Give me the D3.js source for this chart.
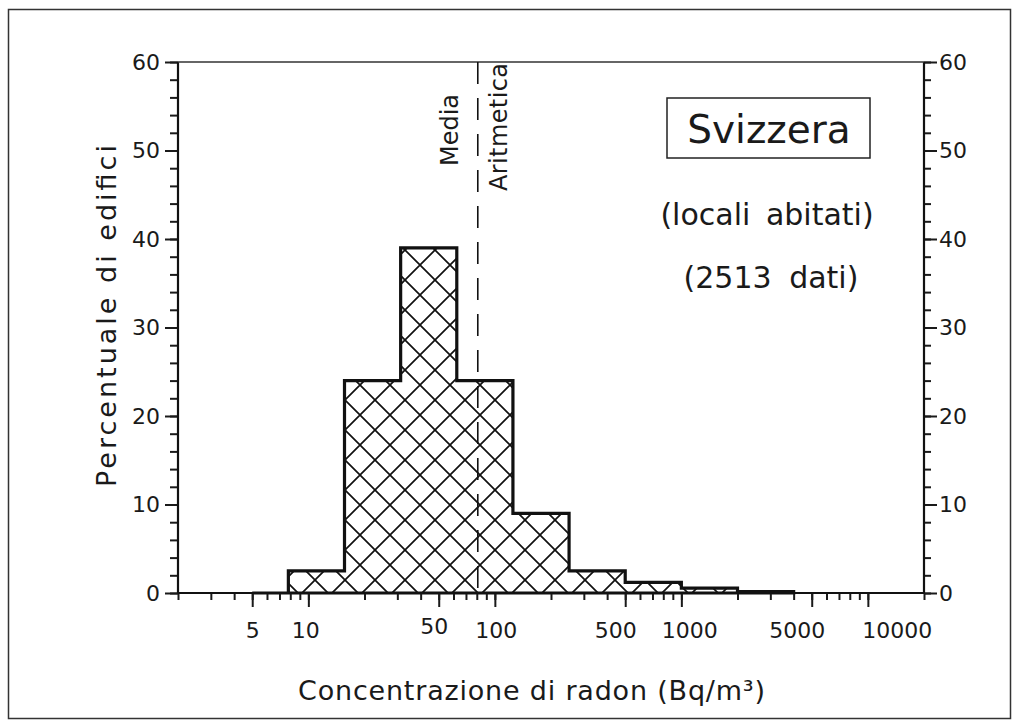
<!DOCTYPE html>
<html>
<head>
<meta charset="utf-8">
<script src="https://cdn.jsdelivr.net/npm/d3@7.9.0/dist/d3.min.js"></script>
<style>
  html, body { margin: 0; padding: 0; background: #fff; }
  svg { display: block; font-family: "DejaVu Sans", sans-serif; }
  .axis text { font-size: 22px; fill: #1a1a1a; font-family: "DejaVu Sans", sans-serif; }
  .axis line { stroke: #1a1a1a; stroke-width: 2; }
  .axis path { display: none; }
</style>
</head>
<body>
<svg id="chart" width="1019" height="727"></svg>
<script>
// ========== Data ==========
const binEdges = [5, 7.8125, 15.625, 31.25, 62.5, 125, 250, 500, 1000, 2000, 4000];
const binPercent = [0, 2.5, 24, 39, 24, 9, 2.5, 1.2, 0.55, 0.15];
const meanValue = 81;
const xLabelValues = [5, 10, 50, 100, 500, 1000, 5000, 10000];
const yLabelValues = [0, 10, 20, 30, 40, 50, 60];

// ========== Layout ==========
const plotL = 178, plotR = 924, plotT = 62, plotB = 593;

const svg = d3.select('#chart');

const x = d3.scaleLog().domain([2, 20000]).range([plotL, plotR]);
const y = d3.scaleLinear().domain([0, 60]).range([plotB, plotT]);

// outer frame
svg.append('rect')
  .attr('x', 8.5).attr('y', 9.5)
  .attr('width', 1002).attr('height', 709)
  .attr('fill', 'none').attr('stroke', '#333').attr('stroke-width', 1.5);

// ========== Hatch pattern ==========
const defs = svg.append('defs');
const pat = defs.append('pattern')
  .attr('id', 'hatch')
  .attr('patternUnits', 'userSpaceOnUse')
  .attr('x', 15).attr('y', 10)
  .attr('width', 30).attr('height', 30);
pat.append('path')
  .attr('d', 'M-3,-3L33,33M33,-3L-3,33')
  .attr('stroke', '#111').attr('stroke-width', 1.7).attr('fill', 'none');

// ========== Histogram ==========
const pts = [[binEdges[0], 0]]
  .concat(binEdges.map((e, i) => [e, i < binPercent.length ? binPercent[i] : 0]))
  .concat([[binEdges[0], 0]]);

const line = d3.line()
  .x(d => x(d[0]))
  .y(d => y(d[1]))
  .curve(d3.curveStepAfter);

svg.append('path')
  .attr('d', line(pts))
  .attr('fill', 'url(#hatch)')
  .attr('stroke', '#111')
  .attr('stroke-width', 3.2)
  .attr('stroke-linejoin', 'miter');

// ========== Axes ==========
// left
svg.append('g').attr('class', 'axis')
  .attr('transform', `translate(${plotL},0)`)
  .call(d3.axisLeft(y).tickValues(y.ticks(30)).tickSize(8).tickFormat(''));
svg.append('g').attr('class', 'axis')
  .attr('transform', `translate(${plotL},0)`)
  .call(d3.axisLeft(y).tickValues(yLabelValues).tickSize(13).tickPadding(5).tickFormat(d3.format('d')));

// right
svg.append('g').attr('class', 'axis')
  .attr('transform', `translate(${plotR},0)`)
  .call(d3.axisRight(y).tickValues(y.ticks(30)).tickSize(7).tickFormat(''));
svg.append('g').attr('class', 'axis')
  .attr('transform', `translate(${plotR},0)`)
  .call(d3.axisRight(y).tickValues(yLabelValues).tickSize(13).tickPadding(2).tickFormat(d3.format('d')));

// bottom
svg.append('g').attr('class', 'axis')
  .attr('transform', `translate(0,${plotB})`)
  .call(d3.axisBottom(x).tickValues(x.ticks()).tickSize(7).tickFormat(''));
const xMajor = svg.append('g').attr('class', 'axis')
  .attr('transform', `translate(0,${plotB})`)
  .call(d3.axisBottom(x).tickValues(xLabelValues).tickSize(14).tickPadding(15).tickFormat(d3.format('d')));

// the original labels sit a little off their ticks
const labelNudge = { 10: -3, 50: -5, 100: 1, 500: -10, 1000: 8, 5000: -15, 10000: 29 };
const labelLift = { 50: -4 };
xMajor.selectAll('text')
  .attr('dx', d => labelNudge[d] || 0)
  .attr('transform', d => `translate(0,${labelLift[d] || 0})`);

// frame lines of the plot
svg.append('line').attr('x1', plotL).attr('x2', plotL).attr('y1', plotT).attr('y2', plotB)
  .attr('stroke', '#111').attr('stroke-width', 2.2);
svg.append('line').attr('x1', plotR).attr('x2', plotR).attr('y1', plotT).attr('y2', plotB)
  .attr('stroke', '#111').attr('stroke-width', 2.2);
svg.append('line').attr('x1', plotL).attr('x2', plotR).attr('y1', plotB).attr('y2', plotB)
  .attr('stroke', '#111').attr('stroke-width', 2.2);
svg.append('line').attr('x1', plotL).attr('x2', plotR).attr('y1', plotT).attr('y2', plotT)
  .attr('stroke', '#333').attr('stroke-width', 1.5);

// ========== Mean line ==========
const mx = x(meanValue);
svg.append('line')
  .attr('x1', mx).attr('x2', mx).attr('y1', plotT).attr('y2', plotB)
  .attr('stroke', '#111').attr('stroke-width', 1.6)
  .attr('stroke-dasharray', '22,14');

svg.append('text')
  .attr('transform', `translate(${mx - 20},130) rotate(-90)`)
  .attr('text-anchor', 'middle')
  .attr('font-size', 24).attr('fill', '#1a1a1a')
  .text('Media');
svg.append('text')
  .attr('transform', `translate(${mx + 29},127) rotate(-90)`)
  .attr('text-anchor', 'middle')
  .attr('font-size', 24).attr('fill', '#1a1a1a')
  .attr('textLength', 128).attr('lengthAdjust', 'spacing')
  .text('Aritmetica');

// ========== Legend box ==========
svg.append('rect')
  .attr('x', 667).attr('y', 98).attr('width', 203).attr('height', 60)
  .attr('fill', 'none').attr('stroke', '#222').attr('stroke-width', 1.5);
svg.append('text')
  .attr('x', 769).attr('y', 143)
  .attr('text-anchor', 'middle')
  .attr('font-size', 39).attr('fill', '#1a1a1a')
  .text('Svizzera');
svg.append('text')
  .attr('x', 767).attr('y', 225)
  .attr('text-anchor', 'middle').attr('font-size', 30).attr('fill', '#1a1a1a')
  .attr('word-spacing', 6)
  .text('(locali abitati)');
svg.append('text')
  .attr('x', 771).attr('y', 288)
  .attr('text-anchor', 'middle').attr('font-size', 30).attr('fill', '#1a1a1a')
  .attr('word-spacing', 8)
  .text('(2513 dati)');

// ========== Axis titles ==========
svg.append('text')
  .attr('x', 298).attr('y', 700)
  .attr('font-size', 27).attr('fill', '#1a1a1a')
  .attr('textLength', 467).attr('lengthAdjust', 'spacing')
  .text('Concentrazione di radon  (Bq/m³)');

svg.append('text')
  .attr('transform', `translate(116,487) rotate(-90)`)
  .attr('font-size', 27).attr('fill', '#1a1a1a')
  .attr('textLength', 342).attr('lengthAdjust', 'spacing')
  .text('Percentuale di edifici');
</script>
</body>
</html>
